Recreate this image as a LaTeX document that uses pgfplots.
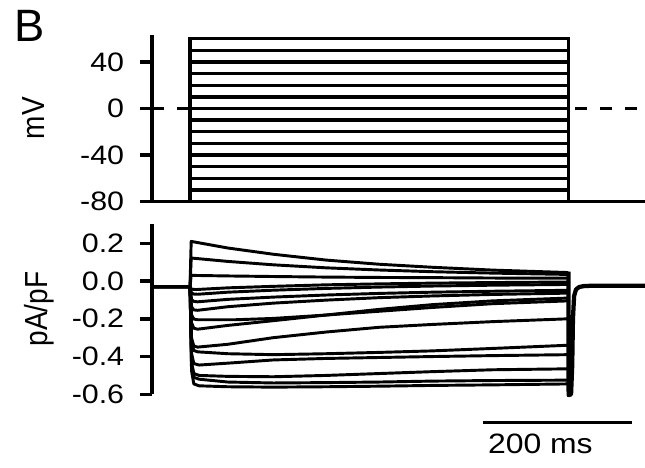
\documentclass[border=0pt]{standalone}
\usepackage{fontspec}
\setmainfont{Liberation Sans}
\usepackage{graphicx}
\usepackage{pgfplots}
\pgfplotsset{compat=1.18}

% the reference is stretched sideways a little
\newcommand\hs[1]{\scalebox{1.14}[1]{#1}}
\newcommand\vs[1]{\scalebox{1}[1.14]{#1}}

\pgfplotsset{
  panel/.style={
    scale only axis, clip=false,
    width=369.7pt, xmin=-50, xmax=601.4,
    axis y line*=left, axis x line=none,
    xtick=\empty,
    tick align=outside, major tick length=9pt,
    every tick/.style={black, line width=2.6pt},
    axis line style={line width=2.6pt, black},
    yticklabel style={font=\fontsize{20}{22}\selectfont, xshift=-8.5pt},
    ylabel style={font=\fontsize{21}{24}\selectfont, anchor=center},
  },
  step/.style={black, line width=2.5pt, no marks, line join=miter},
  trace/.style={black, line width=2.2pt, no marks, line join=round},
}

\begin{document}
\begin{tikzpicture}
\useasboundingbox (0,0) rectangle (483.75pt,-350.25pt);

\node[anchor=base west, inner sep=0pt, font=\fontsize{34}{38}\selectfont] at (10.5pt,-31.5pt) {B};

% voltage protocol
\begin{axis}[panel,
  at={(114.15pt,-151.125pt)}, anchor=south west,
  height=124.875pt, ymin=-80, ymax=63.2,
  ytick={-80,-40,0,40},
  yticklabels={\hs{-80},\hs{-40},\hs{0},\hs{40}},
  ylabel={\vs{mV}},
  ylabel style={at={(axis description cs:-0.241,0.5)}},
]
\addplot[step] coordinates {(-50,-80) (601.4,-80)};
\addplot[step] coordinates {(-50,-80) (0,-80) (0,-70) (500,-70) (500,-80) (601.4,-80)};
\addplot[step] coordinates {(-50,-80) (0,-80) (0,-60) (500,-60) (500,-80) (601.4,-80)};
\addplot[step] coordinates {(-50,-80) (0,-80) (0,-50) (500,-50) (500,-80) (601.4,-80)};
\addplot[step] coordinates {(-50,-80) (0,-80) (0,-40) (500,-40) (500,-80) (601.4,-80)};
\addplot[step] coordinates {(-50,-80) (0,-80) (0,-30) (500,-30) (500,-80) (601.4,-80)};
\addplot[step] coordinates {(-50,-80) (0,-80) (0,-20) (500,-20) (500,-80) (601.4,-80)};
\addplot[step] coordinates {(-50,-80) (0,-80) (0,-10) (500,-10) (500,-80) (601.4,-80)};
\addplot[step] coordinates {(-50,-80) (0,-80) (0,0) (500,0) (500,-80) (601.4,-80)};
\addplot[step] coordinates {(-50,-80) (0,-80) (0,10) (500,10) (500,-80) (601.4,-80)};
\addplot[step] coordinates {(-50,-80) (0,-80) (0,20) (500,20) (500,-80) (601.4,-80)};
\addplot[step] coordinates {(-50,-80) (0,-80) (0,30) (500,30) (500,-80) (601.4,-80)};
\addplot[step] coordinates {(-50,-80) (0,-80) (0,40) (500,40) (500,-80) (601.4,-80)};
\addplot[step] coordinates {(-50,-80) (0,-80) (0,50) (500,50) (500,-80) (601.4,-80)};
\addplot[step] coordinates {(-50,-80) (0,-80) (0,60) (500,60) (500,-80) (601.4,-80)};
% 0 mV reference, dashed
\addplot[black, line width=2.6pt, dash pattern=on 9pt off 9.75pt, no marks] coordinates {(-50,0) (0,0)};
\addplot[black, line width=2.6pt, dash pattern=on 9pt off 9.75pt, no marks] coordinates {(508.6,0) (601.4,0)};
\end{axis}

% current density
\begin{axis}[panel,
  at={(114.15pt,-295.725pt)}, anchor=south west,
  height=127.7pt, ymin=-0.6, ymax=0.302,
  ytick={-0.6,-0.4,-0.2,0,0.2},
  yticklabels={\hs{-0.6},\hs{-0.4},\hs{-0.2},\hs{0.0},\hs{0.2}},
  ylabel={\vs{pA/pF}},
  ylabel style={at={(axis description cs:-0.230,0.5)}},
]
\addplot[trace] coordinates {(-50,-0.03) (0,-0.03) (1.5,0.21) (50,0.175) (110,0.142) (180,0.111) (250,0.089) (320,0.073) (400,0.058) (500,0.045)};
\addplot[trace] coordinates {(-50,-0.03) (0,-0.03) (1.5,0.122) (50,0.104) (110,0.086) (180,0.070) (250,0.0585) (320,0.0495) (400,0.042) (500,0.035)};
\addplot[trace] coordinates {(-50,-0.03) (0,-0.03) (1.5,0.03) (50,0.027) (110,0.024) (180,0.021) (250,0.019) (320,0.018) (400,0.016) (500,0.015)};
\addplot[trace] coordinates {(-50,-0.03) (0,-0.03) (2,-0.043) (8,-0.045) (50,-0.036) (110,-0.028) (180,-0.02) (250,-0.015) (320,-0.011) (400,-0.008) (500,-0.005)};
\addplot[trace] coordinates {(-50,-0.03) (0,-0.03) (2,-0.064) (5,-0.069) (10,-0.07) (50,-0.059) (110,-0.0485) (180,-0.039) (250,-0.032) (320,-0.0265) (400,-0.022) (500,-0.018)};
\addplot[trace] coordinates {(-50,-0.03) (0,-0.03) (2,-0.098) (5,-0.108) (10,-0.11) (50,-0.097) (110,-0.085) (180,-0.074) (250,-0.0655) (320,-0.059) (400,-0.054) (500,-0.049)};
\addplot[trace] coordinates {(-50,-0.03) (0,-0.03) (2,-0.136) (5,-0.153) (10,-0.155) (50,-0.136) (110,-0.117) (180,-0.101) (250,-0.088) (320,-0.079) (400,-0.071) (500,-0.064)};
\addplot[trace] coordinates {(-50,-0.03) (0,-0.03) (2,-0.179) (5,-0.2015) (10,-0.205) (60,-0.205) (110,-0.198) (180,-0.18) (250,-0.16) (320,-0.14) (400,-0.12) (500,-0.105)};
\addplot[trace] coordinates {(-50,-0.03) (0,-0.03) (2,-0.221) (5,-0.25) (10,-0.255) (50,-0.235) (110,-0.21) (180,-0.18) (250,-0.15) (320,-0.125) (400,-0.105) (500,-0.09)};
\addplot[trace] coordinates {(-50,-0.03) (0,-0.03) (2,-0.302) (5,-0.344) (10,-0.35) (50,-0.335) (110,-0.30) (180,-0.27) (250,-0.245) (320,-0.23) (400,-0.215) (500,-0.20)};
\addplot[trace] coordinates {(-50,-0.03) (0,-0.03) (2,-0.323) (5,-0.368) (10,-0.375) (50,-0.385) (110,-0.39) (180,-0.385) (250,-0.378) (320,-0.37) (400,-0.357) (500,-0.34)};
\addplot[trace] coordinates {(-50,-0.03) (0,-0.03) (2,-0.383) (5,-0.437) (12,-0.445) (50,-0.435) (110,-0.418) (180,-0.41) (250,-0.405) (320,-0.40) (400,-0.395) (500,-0.39)};
\addplot[trace] coordinates {(-50,-0.03) (0,-0.03) (2,-0.43) (5,-0.49) (12,-0.50) (50,-0.505) (110,-0.507) (180,-0.50) (250,-0.49) (320,-0.48) (400,-0.47) (500,-0.465)};
\addplot[trace] coordinates {(-50,-0.03) (0,-0.03) (2,-0.446) (5,-0.51) (12,-0.52) (50,-0.535) (110,-0.54) (180,-0.538) (250,-0.535) (320,-0.53) (400,-0.527) (500,-0.525)};
\addplot[trace] coordinates {(-50,-0.03) (0,-0.03) (2,-0.476) (5,-0.545) (12,-0.555) (50,-0.56) (110,-0.562) (180,-0.56) (250,-0.557) (320,-0.553) (400,-0.55) (500,-0.545)};
% tail current after the step
\addplot[black, line width=3.2pt, no marks, line join=round] coordinates {(500,0.05) (500.3,-0.604) (503.5,-0.6) (505,-0.45) (506,-0.2) (507.5,-0.08) (510,-0.045) (514,-0.032) (520,-0.027) (530,-0.025) (601.4,-0.025)};
% scale bar, 200 ms
\addplot[black, line width=2.6pt, no marks] coordinates {(387.3,-0.75) (584.3,-0.75)};
\node[anchor=base, inner sep=0pt, font=\fontsize{21}{24}\selectfont] at (axis cs:463,-0.915) {\hs{200 ms}};
\end{axis}
\end{tikzpicture}
\end{document}
